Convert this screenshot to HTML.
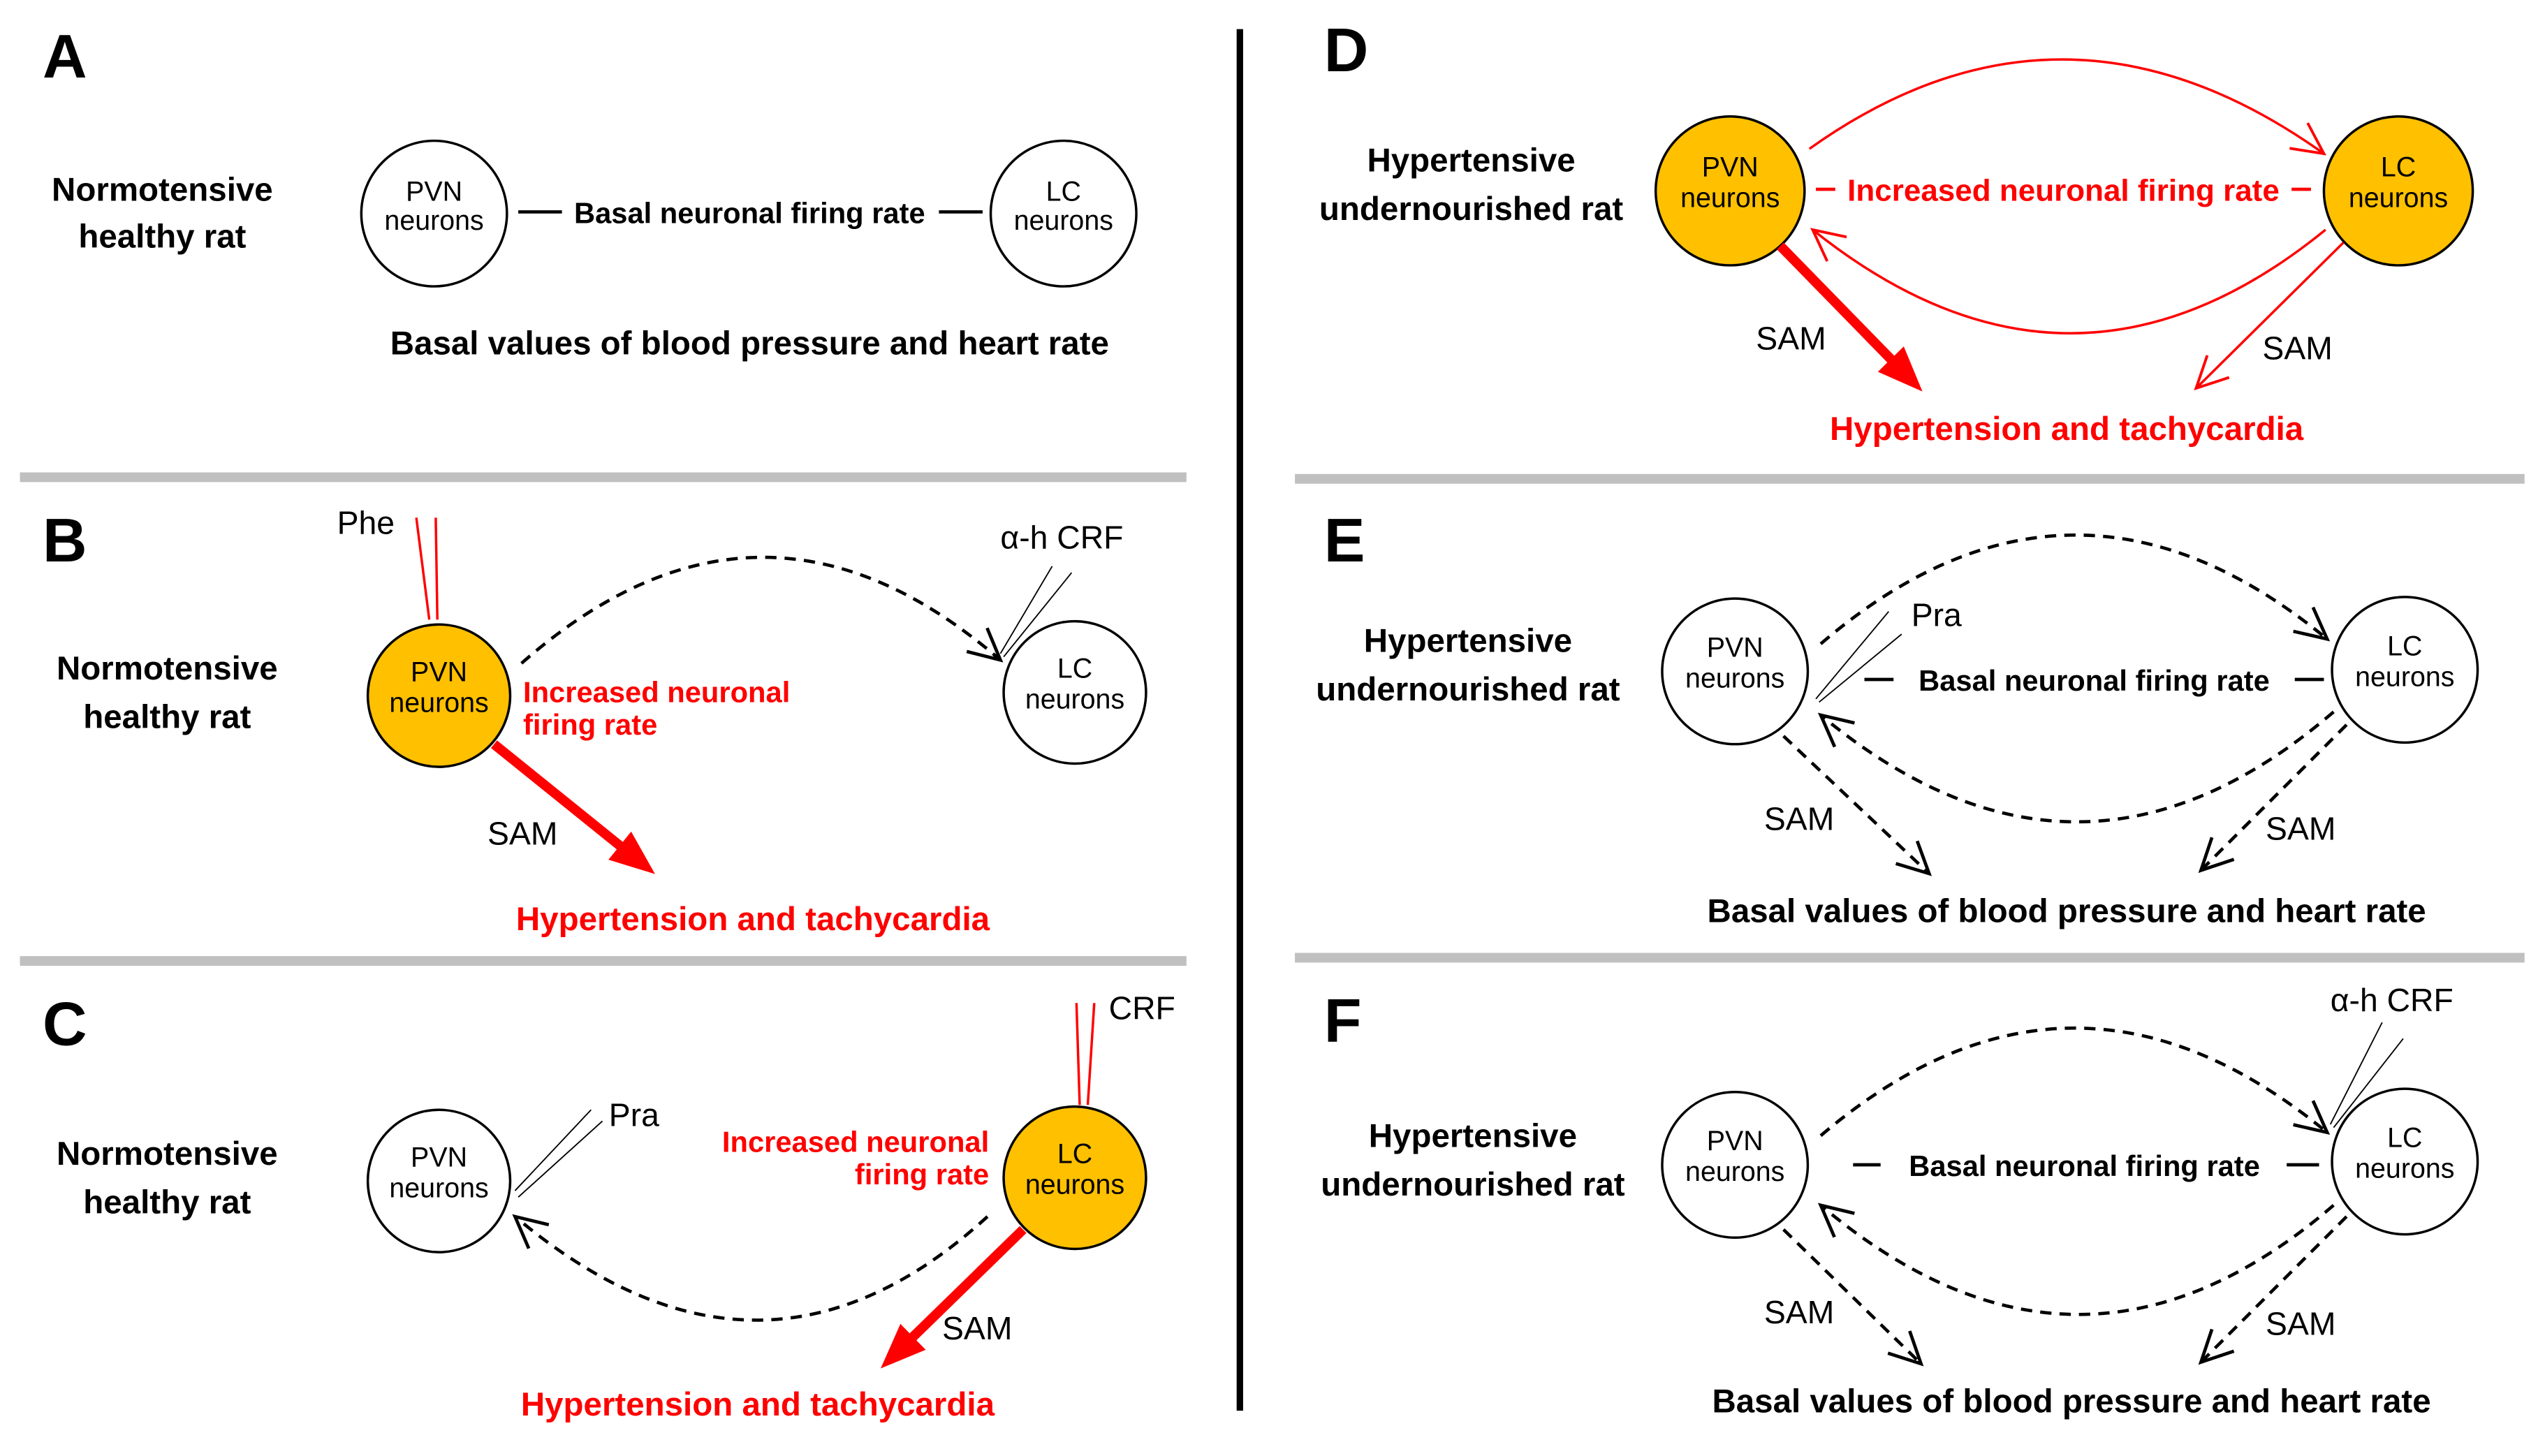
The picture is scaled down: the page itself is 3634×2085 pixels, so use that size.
<!DOCTYPE html>
<html><head><meta charset="utf-8"><style>
html,body{margin:0;padding:0;background:#fff;}
svg{display:block;}
text{font-family:"Liberation Sans",sans-serif;}
.b{font-weight:bold;font-size:20.5px;}
.n{font-size:17px;}
.s{font-size:20px;}
.L{font-weight:bold;font-size:38px;}
.r{fill:#f00;}
</style></head><body>
<svg width="3634" height="2085" viewBox="0 0 1568 900" xmlns="http://www.w3.org/2000/svg">
<defs>
<marker id="ok" viewBox="0 0 20 20" refX="18" refY="10" markerWidth="24" markerHeight="24" markerUnits="userSpaceOnUse" orient="auto"><polyline points="2,2 18,10 2,18" fill="none" stroke="#000" stroke-width="1.7"/></marker>
<marker id="or" viewBox="0 0 20 20" refX="18" refY="10" markerWidth="24" markerHeight="24" markerUnits="userSpaceOnUse" orient="auto"><polyline points="2,2 18,10 2,18" fill="none" stroke="#f00" stroke-width="1.4"/></marker>
<marker id="fr" viewBox="0 0 20 20" refX="14" refY="10" markerWidth="28" markerHeight="28" markerUnits="userSpaceOnUse" orient="auto"><polygon points="0,2 20,10 0,18" fill="#f00"/></marker>
</defs>
<rect width="1568" height="900" fill="#fff"/>
<g fill="#c0c0c0">
<rect x="12" y="292" width="721" height="6"/><rect x="12" y="591" width="721" height="6"/>
<rect x="800" y="293" width="760" height="6"/><rect x="800" y="589" width="760" height="6"/>
</g>
<rect x="764" y="18" width="4" height="854" fill="#000"/>

<!-- A -->
<text class="L" x="26" y="48">A</text>
<text class="b" x="100" y="124" text-anchor="middle">Normotensive</text>
<text class="b" x="100" y="153" text-anchor="middle">healthy rat</text>
<circle cx="268" cy="132" r="45" fill="#fff" stroke="#000" stroke-width="1.5"/>
<text class="n" x="268" y="124" text-anchor="middle">PVN</text><text class="n" x="268" y="142" text-anchor="middle">neurons</text>
<circle cx="657" cy="132" r="45" fill="#fff" stroke="#000" stroke-width="1.5"/>
<text class="n" x="657" y="124" text-anchor="middle">LC</text><text class="n" x="657" y="142" text-anchor="middle">neurons</text>
<line x1="320" y1="131" x2="347" y2="131" stroke="#000" stroke-width="2"/><line x1="580" y1="131" x2="607" y2="131" stroke="#000" stroke-width="2"/>
<text class="b" x="463" y="138" text-anchor="middle" style="font-size:18px">Basal neuronal firing rate</text>
<text class="b" x="463" y="219" text-anchor="middle">Basal values of blood pressure and heart rate</text>

<!-- B -->
<text class="L" x="26" y="347">B</text>
<text class="b" x="103" y="420" text-anchor="middle">Normotensive</text>
<text class="b" x="103" y="450" text-anchor="middle">healthy rat</text>
<line x1="257" y1="320" x2="265" y2="383" stroke="#f00" stroke-width="1.5"/><line x1="269" y1="320" x2="270" y2="383" stroke="#f00" stroke-width="1.5"/>
<text class="s" x="208" y="330">Phe</text>
<circle cx="271" cy="430" r="44" fill="#FFC000" stroke="#000" stroke-width="1.5"/>
<text class="n" x="271" y="421" text-anchor="middle">PVN</text><text class="n" x="271" y="440" text-anchor="middle">neurons</text>
<circle cx="664" cy="428" r="44" fill="#fff" stroke="#000" stroke-width="1.5"/>
<text class="n" x="664" y="419" text-anchor="middle">LC</text><text class="n" x="664" y="438" text-anchor="middle">neurons</text>
<path d="M322,410 Q470,280 618,408" fill="none" stroke="#000" stroke-width="2" stroke-dasharray="7,5" marker-end="url(#ok)"/>
<line x1="618" y1="404" x2="650" y2="350" stroke="#000" stroke-width="0.8"/><line x1="620" y1="406" x2="662" y2="354" stroke="#000" stroke-width="0.8"/>
<text class="s" x="618" y="339">α-h CRF</text>
<text class="b r" x="323" y="434" style="font-size:18px">Increased neuronal</text>
<text class="b r" x="323" y="454" style="font-size:18px">firing rate</text>
<line x1="305" y1="460" x2="398" y2="535" stroke="#f00" stroke-width="6" marker-end="url(#fr)"/>
<text class="s" x="301" y="522">SAM</text>
<text class="b r" x="465" y="575" text-anchor="middle">Hypertension and tachycardia</text>

<!-- C -->
<text class="L" x="26" y="646">C</text>
<text class="b" x="103" y="720" text-anchor="middle">Normotensive</text>
<text class="b" x="103" y="750" text-anchor="middle">healthy rat</text>
<circle cx="271" cy="730" r="44" fill="#fff" stroke="#000" stroke-width="1.5"/>
<text class="n" x="271" y="721" text-anchor="middle">PVN</text><text class="n" x="271" y="740" text-anchor="middle">neurons</text>
<line x1="318" y1="736" x2="365" y2="686" stroke="#000" stroke-width="0.8"/><line x1="320" y1="740" x2="372" y2="693" stroke="#000" stroke-width="0.8"/>
<text class="s" x="376" y="696">Pra</text>
<line x1="665" y1="620" x2="667" y2="683" stroke="#f00" stroke-width="1.5"/><line x1="676" y1="620" x2="672" y2="683" stroke="#f00" stroke-width="1.5"/>
<text class="s" x="685" y="630">CRF</text>
<circle cx="664" cy="728" r="44" fill="#FFC000" stroke="#000" stroke-width="1.5"/>
<text class="n" x="664" y="719" text-anchor="middle">LC</text><text class="n" x="664" y="738" text-anchor="middle">neurons</text>
<text class="b r" x="611" y="712" text-anchor="end" style="font-size:18px">Increased neuronal</text>
<text class="b r" x="611" y="732" text-anchor="end" style="font-size:18px">firing rate</text>
<path d="M610,752 Q470,880 318,752" fill="none" stroke="#000" stroke-width="2" stroke-dasharray="7,5" marker-end="url(#ok)"/>
<line x1="632" y1="760" x2="550" y2="840" stroke="#f00" stroke-width="6" marker-end="url(#fr)"/>
<text class="s" x="582" y="828">SAM</text>
<text class="b r" x="468" y="875" text-anchor="middle">Hypertension and tachycardia</text>

<!-- D -->
<text class="L" x="818" y="44">D</text>
<text class="b" x="909" y="106" text-anchor="middle">Hypertensive</text>
<text class="b" x="909" y="136" text-anchor="middle">undernourished rat</text>
<circle cx="1069" cy="118" r="46" fill="#FFC000" stroke="#000" stroke-width="1.5"/>
<text class="n" x="1069" y="109" text-anchor="middle">PVN</text><text class="n" x="1069" y="128" text-anchor="middle">neurons</text>
<circle cx="1482" cy="118" r="46" fill="#FFC000" stroke="#000" stroke-width="1.5"/>
<text class="n" x="1482" y="109" text-anchor="middle">LC</text><text class="n" x="1482" y="128" text-anchor="middle">neurons</text>
<line x1="1122" y1="117" x2="1134" y2="117" stroke="#f00" stroke-width="2"/><line x1="1416" y1="117" x2="1428" y2="117" stroke="#f00" stroke-width="2"/>
<text class="b r" x="1275" y="124" text-anchor="middle" style="font-size:19px">Increased neuronal firing rate</text>
<path d="M1118,92 Q1275,-20 1436,95" fill="none" stroke="#f00" stroke-width="1.5" marker-end="url(#or)"/>
<path d="M1437,142 Q1280,270 1120,142" fill="none" stroke="#f00" stroke-width="1.5" marker-end="url(#or)"/>
<line x1="1100" y1="152" x2="1182" y2="236" stroke="#f00" stroke-width="6" marker-end="url(#fr)"/>
<text class="s" x="1085" y="216">SAM</text>
<line x1="1448" y1="150" x2="1357" y2="240" stroke="#f00" stroke-width="1.5" marker-end="url(#or)"/>
<text class="s" x="1398" y="222">SAM</text>
<text class="b r" x="1277" y="272" text-anchor="middle">Hypertension and tachycardia</text>

<!-- E -->
<text class="L" x="818" y="347">E</text>
<text class="b" x="907" y="403" text-anchor="middle">Hypertensive</text>
<text class="b" x="907" y="433" text-anchor="middle">undernourished rat</text>
<circle cx="1072" cy="415" r="45" fill="#fff" stroke="#000" stroke-width="1.5"/>
<text class="n" x="1072" y="406" text-anchor="middle">PVN</text><text class="n" x="1072" y="425" text-anchor="middle">neurons</text>
<circle cx="1486" cy="414" r="45" fill="#fff" stroke="#000" stroke-width="1.5"/>
<text class="n" x="1486" y="405" text-anchor="middle">LC</text><text class="n" x="1486" y="424" text-anchor="middle">neurons</text>
<path d="M1125,398 Q1280,265 1438,395" fill="none" stroke="#000" stroke-width="2" stroke-dasharray="7,5" marker-end="url(#ok)"/>
<path d="M1442,440 Q1285,575 1125,442" fill="none" stroke="#000" stroke-width="2" stroke-dasharray="7,5" marker-end="url(#ok)"/>
<line x1="1122" y1="432" x2="1167" y2="378" stroke="#000" stroke-width="0.8"/><line x1="1124" y1="434" x2="1175" y2="392" stroke="#000" stroke-width="0.8"/>
<text class="s" x="1181" y="387">Pra</text>
<line x1="1152" y1="420" x2="1170" y2="420" stroke="#000" stroke-width="2"/><line x1="1418" y1="420" x2="1436" y2="420" stroke="#000" stroke-width="2"/>
<text class="b" x="1294" y="427" text-anchor="middle" style="font-size:18px">Basal neuronal firing rate</text>
<line x1="1102" y1="455" x2="1192" y2="540" stroke="#000" stroke-width="2" stroke-dasharray="7,5" marker-end="url(#ok)"/>
<text class="s" x="1090" y="513">SAM</text>
<line x1="1450" y1="448" x2="1360" y2="538" stroke="#000" stroke-width="2" stroke-dasharray="7,5" marker-end="url(#ok)"/>
<text class="s" x="1400" y="519">SAM</text>
<text class="b" x="1277" y="570" text-anchor="middle">Basal values of blood pressure and heart rate</text>

<!-- F -->
<text class="L" x="818" y="644">F</text>
<text class="b" x="910" y="709" text-anchor="middle">Hypertensive</text>
<text class="b" x="910" y="739" text-anchor="middle">undernourished rat</text>
<circle cx="1072" cy="720" r="45" fill="#fff" stroke="#000" stroke-width="1.5"/>
<text class="n" x="1072" y="711" text-anchor="middle">PVN</text><text class="n" x="1072" y="730" text-anchor="middle">neurons</text>
<circle cx="1486" cy="718" r="45" fill="#fff" stroke="#000" stroke-width="1.5"/>
<text class="n" x="1486" y="709" text-anchor="middle">LC</text><text class="n" x="1486" y="728" text-anchor="middle">neurons</text>
<path d="M1125,702 Q1280,570 1438,700" fill="none" stroke="#000" stroke-width="2" stroke-dasharray="7,5" marker-end="url(#ok)"/>
<path d="M1442,745 Q1285,880 1125,745" fill="none" stroke="#000" stroke-width="2" stroke-dasharray="7,5" marker-end="url(#ok)"/>
<line x1="1440" y1="695" x2="1472" y2="632" stroke="#000" stroke-width="0.8"/><line x1="1442" y1="697" x2="1485" y2="642" stroke="#000" stroke-width="0.8"/>
<text class="s" x="1440" y="625">α-h CRF</text>
<line x1="1145" y1="720" x2="1162" y2="720" stroke="#000" stroke-width="2"/><line x1="1413" y1="720" x2="1433" y2="720" stroke="#000" stroke-width="2"/>
<text class="b" x="1288" y="727" text-anchor="middle" style="font-size:18px">Basal neuronal firing rate</text>
<line x1="1102" y1="760" x2="1187" y2="843" stroke="#000" stroke-width="2" stroke-dasharray="7,5" marker-end="url(#ok)"/>
<text class="s" x="1090" y="818">SAM</text>
<line x1="1450" y1="752" x2="1360" y2="842" stroke="#000" stroke-width="2" stroke-dasharray="7,5" marker-end="url(#ok)"/>
<text class="s" x="1400" y="825">SAM</text>
<text class="b" x="1280" y="873" text-anchor="middle">Basal values of blood pressure and heart rate</text>
</svg>
</body></html>
